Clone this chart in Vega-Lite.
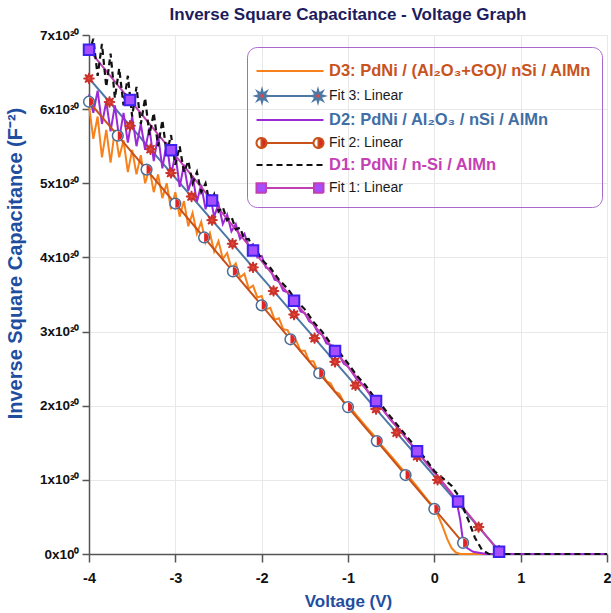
{
"$schema": "https://vega.github.io/schema/vega-lite/v6.json",
"width": 518, "height": 519,
"autosize": {"type": "none"},
"padding": {"left": 89, "top": 35, "right": 4, "bottom": 59},
"background": "white",
"title": {"text": "Inverse Square Capacitance - Voltage Graph", "font": "Liberation Sans", "fontSize": 17, "fontWeight": "bold", "color": "#1c1c5e", "anchor": "middle", "frame": "group", "offset": 4},
"data": {"values": [
{"s":"D3","x":-4,"y":6.05e20},{"s":"D3","x":-3.95,"y":5.60e20},{"s":"D3","x":-3.9,"y":5.90e20},{"s":"D3","x":-3.85,"y":5.35e20},{"s":"D3","x":-3.8,"y":5.72e20},{"s":"D3","x":-3.75,"y":5.28e20},{"s":"D3","x":-3.7,"y":5.72e20},{"s":"D3","x":-3.65,"y":5.35e20},{"s":"D3","x":-3.6,"y":5.58e20},{"s":"D3","x":-3.55,"y":5.15e20},{"s":"D3","x":-3.5,"y":5.45e20},{"s":"D3","x":-3.45,"y":5.12e20},{"s":"D3","x":-3.4,"y":5.38e20},{"s":"D3","x":-3.35,"y":5.00e20},{"s":"D3","x":-3.3,"y":5.20e20},{"s":"D3","x":-3.25,"y":4.88e20},{"s":"D3","x":-3.2,"y":5.12e20},{"s":"D3","x":-3.15,"y":4.80e20},{"s":"D3","x":-3.1,"y":5.00e20},{"s":"D3","x":-3.05,"y":4.65e20},{"s":"D3","x":-3,"y":4.88e20},{"s":"D3","x":-2.95,"y":4.55e20},{"s":"D3","x":-2.9,"y":4.76e20},{"s":"D3","x":-2.85,"y":4.42e20},{"s":"D3","x":-2.8,"y":4.60e20},{"s":"D3","x":-2.75,"y":4.32e20},{"s":"D3","x":-2.7,"y":4.48e20},{"s":"D3","x":-2.65,"y":4.20e20},{"s":"D3","x":-2.6,"y":4.33e20},{"s":"D3","x":-2.55,"y":4.08e20},{"s":"D3","x":-2.5,"y":4.22e20},{"s":"D3","x":-2.45,"y":3.98e20},{"s":"D3","x":-2.4,"y":4.06e20},{"s":"D3","x":-2.35,"y":3.85e20},{"s":"D3","x":-2.3,"y":3.92e20},{"s":"D3","x":-2.25,"y":3.73e20},{"s":"D3","x":-2.2,"y":3.78e20},{"s":"D3","x":-2.15,"y":3.58e20},{"s":"D3","x":-2.1,"y":3.62e20},{"s":"D3","x":-2.05,"y":3.46e20},{"s":"D3","x":-2,"y":3.48e20},{"s":"D3","x":-1.95,"y":3.30e20},{"s":"D3","x":-1.9,"y":3.32e20},{"s":"D3","x":-1.85,"y":3.16e20},{"s":"D3","x":-1.8,"y":3.18e20},{"s":"D3","x":-1.75,"y":3.03e20},{"s":"D3","x":-1.7,"y":3.02e20},{"s":"D3","x":-1.65,"y":2.90e20},{"s":"D3","x":-1.6,"y":2.88e20},{"s":"D3","x":-1.55,"y":2.74e20},{"s":"D3","x":-1.5,"y":2.74e20},{"s":"D3","x":-1.45,"y":2.60e20},{"s":"D3","x":-1.4,"y":2.60e20},{"s":"D3","x":-1.35,"y":2.47e20},{"s":"D3","x":-1.3,"y":2.44e20},{"s":"D3","x":-1.25,"y":2.33e20},{"s":"D3","x":-1.2,"y":2.30e20},{"s":"D3","x":-1.15,"y":2.19e20},{"s":"D3","x":-1.1,"y":2.16e20},{"s":"D3","x":-1.05,"y":2.05e20},{"s":"D3","x":-1,"y":2.02e20},{"s":"D3","x":-0.9,"y":1.87e20},{"s":"D3","x":-0.8,"y":1.73e20},{"s":"D3","x":-0.7,"y":1.60e20},{"s":"D3","x":-0.6,"y":1.45e20},{"s":"D3","x":-0.5,"y":1.32e20},{"s":"D3","x":-0.4,"y":1.18e20},{"s":"D3","x":-0.3,"y":1.05e20},{"s":"D3","x":-0.2,"y":0.91e20},{"s":"D3","x":-0.1,"y":0.76e20},{"s":"D3","x":0,"y":0.62e20},{"s":"D3","x":0.05,"y":0.50e20},{"s":"D3","x":0.1,"y":0.36e20},{"s":"D3","x":0.15,"y":0.20e20},{"s":"D3","x":0.2,"y":0.08e20},{"s":"D3","x":0.25,"y":0.02e20},{"s":"D3","x":0.3,"y":0},{"s":"D3","x":2,"y":0},
{"s":"Fit 3","x":-4,"y":6.414e20},{"s":"Fit 3","x":-3.7625,"y":6.096e20},{"s":"Fit 3","x":-3.525,"y":5.777e20},{"s":"Fit 3","x":-3.2875,"y":5.459e20},{"s":"Fit 3","x":-3.05,"y":5.140e20},{"s":"Fit 3","x":-2.8125,"y":4.822e20},{"s":"Fit 3","x":-2.575,"y":4.503e20},{"s":"Fit 3","x":-2.3375,"y":4.185e20},{"s":"Fit 3","x":-2.1,"y":3.866e20},{"s":"Fit 3","x":-1.8625,"y":3.548e20},{"s":"Fit 3","x":-1.625,"y":3.229e20},{"s":"Fit 3","x":-1.3875,"y":2.911e20},{"s":"Fit 3","x":-1.15,"y":2.592e20},{"s":"Fit 3","x":-0.9125,"y":2.274e20},{"s":"Fit 3","x":-0.675,"y":1.955e20},{"s":"Fit 3","x":-0.4375,"y":1.637e20},{"s":"Fit 3","x":-0.2,"y":1.318e20},{"s":"Fit 3","x":0.0375,"y":1.000e20},{"s":"Fit 3","x":0.275,"y":0.681e20},{"s":"Fit 3","x":0.5125,"y":0.363e20},{"s":"Fit 3","x":0.75,"y":0.044e20},
{"s":"D2","x":-4,"y":6.20e20},{"s":"D2","x":-3.95,"y":5.95e20},{"s":"D2","x":-3.9,"y":6.25e20},{"s":"D2","x":-3.85,"y":5.80e20},{"s":"D2","x":-3.8,"y":6.10e20},{"s":"D2","x":-3.75,"y":5.70e20},{"s":"D2","x":-3.7,"y":6.05e20},{"s":"D2","x":-3.65,"y":5.60e20},{"s":"D2","x":-3.6,"y":5.95e20},{"s":"D2","x":-3.55,"y":5.55e20},{"s":"D2","x":-3.5,"y":5.90e20},{"s":"D2","x":-3.45,"y":5.50e20},{"s":"D2","x":-3.4,"y":5.80e20},{"s":"D2","x":-3.35,"y":5.45e20},{"s":"D2","x":-3.3,"y":5.75e20},{"s":"D2","x":-3.25,"y":5.30e20},{"s":"D2","x":-3.2,"y":5.65e20},{"s":"D2","x":-3.15,"y":5.20e20},{"s":"D2","x":-3.1,"y":5.55e20},{"s":"D2","x":-3.05,"y":5.10e20},{"s":"D2","x":-3,"y":5.40e20},{"s":"D2","x":-2.95,"y":4.95e20},{"s":"D2","x":-2.9,"y":5.25e20},{"s":"D2","x":-2.85,"y":4.90e20},{"s":"D2","x":-2.8,"y":5.10e20},{"s":"D2","x":-2.75,"y":4.75e20},{"s":"D2","x":-2.7,"y":4.98e20},{"s":"D2","x":-2.65,"y":4.65e20},{"s":"D2","x":-2.6,"y":4.85e20},{"s":"D2","x":-2.55,"y":4.55e20},{"s":"D2","x":-2.5,"y":4.72e20},{"s":"D2","x":-2.45,"y":4.45e20},{"s":"D2","x":-2.4,"y":4.58e20},{"s":"D2","x":-2.35,"y":4.35e20},{"s":"D2","x":-2.3,"y":4.45e20},{"s":"D2","x":-2.25,"y":4.25e20},{"s":"D2","x":-2.2,"y":4.32e20},{"s":"D2","x":-2.15,"y":4.15e20},{"s":"D2","x":-2.1,"y":4.18e20},{"s":"D2","x":-2.05,"y":4.00e20},{"s":"D2","x":-2,"y":4.02e20},{"s":"D2","x":-1.95,"y":3.86e20},{"s":"D2","x":-1.9,"y":3.84e20},{"s":"D2","x":-1.85,"y":3.70e20},{"s":"D2","x":-1.8,"y":3.68e20},{"s":"D2","x":-1.75,"y":3.55e20},{"s":"D2","x":-1.7,"y":3.53e20},{"s":"D2","x":-1.65,"y":3.42e20},{"s":"D2","x":-1.6,"y":3.40e20},{"s":"D2","x":-1.55,"y":3.27e20},{"s":"D2","x":-1.5,"y":3.25e20},{"s":"D2","x":-1.45,"y":3.14e20},{"s":"D2","x":-1.4,"y":3.10e20},{"s":"D2","x":-1.35,"y":2.99e20},{"s":"D2","x":-1.3,"y":2.96e20},{"s":"D2","x":-1.25,"y":2.84e20},{"s":"D2","x":-1.2,"y":2.82e20},{"s":"D2","x":-1.15,"y":2.70e20},{"s":"D2","x":-1.1,"y":2.68e20},{"s":"D2","x":-1.05,"y":2.57e20},{"s":"D2","x":-1,"y":2.53e20},{"s":"D2","x":-0.9,"y":2.36e20},{"s":"D2","x":-0.8,"y":2.24e20},{"s":"D2","x":-0.7,"y":2.07e20},{"s":"D2","x":-0.6,"y":1.95e20},{"s":"D2","x":-0.5,"y":1.80e20},{"s":"D2","x":-0.4,"y":1.67e20},{"s":"D2","x":-0.3,"y":1.52e20},{"s":"D2","x":-0.2,"y":1.39e20},{"s":"D2","x":-0.1,"y":1.24e20},{"s":"D2","x":0,"y":1.10e20},{"s":"D2","x":0.1,"y":0.96e20},{"s":"D2","x":0.2,"y":0.82e20},{"s":"D2","x":0.26,"y":0.70e20},{"s":"D2","x":0.3,"y":0.46e20},{"s":"D2","x":0.33,"y":0.19e20},{"s":"D2","x":0.38,"y":0.08e20},{"s":"D2","x":0.45,"y":0.03e20},{"s":"D2","x":0.6,"y":0},{"s":"D2","x":2,"y":0},
{"s":"Fit 2","x":-4,"y":6.100e20},{"s":"Fit 2","x":-3.6667,"y":5.642e20},{"s":"Fit 2","x":-3.3333,"y":5.185e20},{"s":"Fit 2","x":-3,"y":4.727e20},{"s":"Fit 2","x":-2.6667,"y":4.269e20},{"s":"Fit 2","x":-2.3333,"y":3.812e20},{"s":"Fit 2","x":-2,"y":3.354e20},{"s":"Fit 2","x":-1.6667,"y":2.896e20},{"s":"Fit 2","x":-1.3333,"y":2.438e20},{"s":"Fit 2","x":-1,"y":1.981e20},{"s":"Fit 2","x":-0.6667,"y":1.523e20},{"s":"Fit 2","x":-0.3333,"y":1.065e20},{"s":"Fit 2","x":0,"y":0.608e20},{"s":"Fit 2","x":0.3333,"y":0.150e20},
{"s":"D1","x":-4,"y":6.75e20},{"s":"D1","x":-3.95,"y":6.95e20},{"s":"D1","x":-3.9,"y":6.45e20},{"s":"D1","x":-3.85,"y":6.88e20},{"s":"D1","x":-3.8,"y":6.30e20},{"s":"D1","x":-3.75,"y":6.75e20},{"s":"D1","x":-3.7,"y":6.15e20},{"s":"D1","x":-3.65,"y":6.55e20},{"s":"D1","x":-3.6,"y":6.05e20},{"s":"D1","x":-3.55,"y":6.45e20},{"s":"D1","x":-3.5,"y":5.90e20},{"s":"D1","x":-3.45,"y":6.30e20},{"s":"D1","x":-3.4,"y":5.80e20},{"s":"D1","x":-3.35,"y":6.15e20},{"s":"D1","x":-3.3,"y":5.65e20},{"s":"D1","x":-3.25,"y":5.95e20},{"s":"D1","x":-3.2,"y":5.50e20},{"s":"D1","x":-3.15,"y":5.85e20},{"s":"D1","x":-3.1,"y":5.40e20},{"s":"D1","x":-3.05,"y":5.65e20},{"s":"D1","x":-3,"y":5.25e20},{"s":"D1","x":-2.95,"y":5.50e20},{"s":"D1","x":-2.9,"y":5.15e20},{"s":"D1","x":-2.85,"y":5.30e20},{"s":"D1","x":-2.8,"y":5.00e20},{"s":"D1","x":-2.75,"y":5.15e20},{"s":"D1","x":-2.7,"y":4.88e20},{"s":"D1","x":-2.65,"y":5.00e20},{"s":"D1","x":-2.6,"y":4.72e20},{"s":"D1","x":-2.55,"y":4.85e20},{"s":"D1","x":-2.5,"y":4.62e20},{"s":"D1","x":-2.45,"y":4.68e20},{"s":"D1","x":-2.4,"y":4.50e20},{"s":"D1","x":-2.35,"y":4.55e20},{"s":"D1","x":-2.3,"y":4.38e20},{"s":"D1","x":-2.25,"y":4.40e20},{"s":"D1","x":-2.2,"y":4.24e20},{"s":"D1","x":-2.15,"y":4.25e20},{"s":"D1","x":-2.1,"y":4.10e20},{"s":"D1","x":-2.05,"y":4.08e20},{"s":"D1","x":-2,"y":3.97e20},{"s":"D1","x":-1.9,"y":3.86e20},{"s":"D1","x":-1.8,"y":3.70e20},{"s":"D1","x":-1.7,"y":3.58e20},{"s":"D1","x":-1.6,"y":3.42e20},{"s":"D1","x":-1.5,"y":3.30e20},{"s":"D1","x":-1.4,"y":3.13e20},{"s":"D1","x":-1.3,"y":3.00e20},{"s":"D1","x":-1.2,"y":2.84e20},{"s":"D1","x":-1.1,"y":2.72e20},{"s":"D1","x":-1,"y":2.57e20},{"s":"D1","x":-0.9,"y":2.41e20},{"s":"D1","x":-0.8,"y":2.28e20},{"s":"D1","x":-0.7,"y":2.12e20},{"s":"D1","x":-0.6,"y":1.99e20},{"s":"D1","x":-0.5,"y":1.84e20},{"s":"D1","x":-0.4,"y":1.70e20},{"s":"D1","x":-0.3,"y":1.56e20},{"s":"D1","x":-0.2,"y":1.42e20},{"s":"D1","x":-0.1,"y":1.28e20},{"s":"D1","x":0,"y":1.12e20},{"s":"D1","x":0.1,"y":1.02e20},{"s":"D1","x":0.2,"y":0.92e20},{"s":"D1","x":0.3,"y":0.75e20},{"s":"D1","x":0.35,"y":0.58e20},{"s":"D1","x":0.4,"y":0.44e20},{"s":"D1","x":0.47,"y":0.22e20},{"s":"D1","x":0.55,"y":0.06e20},{"s":"D1","x":0.63,"y":0},{"s":"D1","x":2,"y":0},
{"s":"Fit 1","x":-4,"y":6.800e20},{"s":"Fit 1","x":-3.525,"y":6.123e20},{"s":"Fit 1","x":-3.05,"y":5.446e20},{"s":"Fit 1","x":-2.575,"y":4.769e20},{"s":"Fit 1","x":-2.1,"y":4.093e20},{"s":"Fit 1","x":-1.625,"y":3.416e20},{"s":"Fit 1","x":-1.15,"y":2.739e20},{"s":"Fit 1","x":-0.675,"y":2.062e20},{"s":"Fit 1","x":-0.2,"y":1.385e20},{"s":"Fit 1","x":0.275,"y":0.708e20},{"s":"Fit 1","x":0.75,"y":0.031e20}
]},
"encoding": {
  "x": {"field": "x", "type": "quantitative", "scale": {"domain": [-4, 2], "nice": false, "zero": false},
    "axis": {"title": "Voltage (V)", "values": [-4,-3,-2,-1,0,1,2], "labelExpr": "'' + datum.value", "grid": true, "gridColor": "#e8e8e8", "domainColor": "#555555", "domainWidth": 1.5, "tickColor": "#555555", "tickSize": 8, "tickWidth": 1.5, "labelFont": "Liberation Sans", "labelFontSize": 14.5, "labelFontWeight": "bold", "labelColor": "#111111", "labelPadding": 9, "labelFlush": false, "labelOverlap": false, "titleFont": "Liberation Sans", "titleFontSize": 17, "titleFontWeight": "bold", "titleColor": "#1f4e9f", "titleY": 47, "titleBaseline": "middle"}},
  "y": {"field": "y", "type": "quantitative", "scale": {"domain": [0, 7e20], "nice": false},
    "axis": {"title": "Inverse Square Capacitance (F\u207b\u00b2)", "values": [0,1e20,2e20,3e20,4e20,5e20,6e20,7e20], "labelExpr": "datum.value === 0 ? '0x10\u2070' : format(datum.value / 1e20, 'd') + 'x10\u00b2\u2070'", "grid": true, "gridColor": "#e8e8e8", "domainColor": "#555555", "domainWidth": 1.5, "tickColor": "#555555", "tickSize": 7, "tickWidth": 1.5, "labelFont": "Liberation Sans", "labelFontSize": 13.5, "labelFontWeight": "bold", "labelColor": "#111111", "labelPadding": 3, "labelOverlap": false, "titleFont": "Liberation Sans", "titleFontSize": 20, "titleFontWeight": "bold", "titleColor": "#1f4e9f", "titleX": -74, "titleY": 228, "titleBaseline": "middle", "titleAlign": "center"}}
},
"layer": [
  {
    "transform": [{"filter": "datum.s !== 'D1'"}],
    "mark": {"type": "line", "strokeWidth": 2},
    "encoding": {
      "color": {"field": "s", "type": "nominal",
        "scale": {"domain": ["D3","Fit 3","D2","Fit 2","D1","Fit 1"], "range": ["#f7821b","#4d78a6","#9b2ad6","#c85219","#111111","#c23fb3"]},
        "legend": {
          "title": " ", "titleFontSize": 1, "titlePadding": 7,
          "orient": "none", "legendX": 158, "legendY": 12,
          "padding": 10, "rowPadding": 5,
          "strokeColor": "#a868cc", "cornerRadius": 10,
          "symbolType": "M-6.7,0H6.7", "symbolSize": 100, "symbolStrokeWidth": 2,
          "symbolOffset": 27, "labelOffset": 33, "labelLimit": 400,
          "labelFont": "Liberation Sans", "labelFontSize": 15,
          "labelExpr": "datum.value === 'D3' ? 'D3: PdNi / (Al\u2082O\u2083+GO)/ nSi / AlMn' : datum.value === 'D2' ? 'D2: PdNi / Al\u2082O\u2083 / nSi / AlMn' : datum.value === 'D1' ? 'D1: PdNi / n-Si / AlMn' : datum.value + ': Linear'",
          "encode": {
            "symbols": {"update": {
              "shape": [
                {"test": "datum.value === 'Fit 3'", "value": "M-4.35,0H4.35M-4.35,0L-5.092,0.21L-4.716,0.884L-5.39,0.508L-5.6,1.25L-5.81,0.508L-6.484,0.884L-6.108,0.21L-6.85,0L-6.108,-0.21L-6.484,-0.884L-5.81,-0.508L-5.6,-1.25L-5.39,-0.508L-4.716,-0.884L-5.092,-0.21ZM6.85,0L6.108,0.21L6.484,0.884L5.81,0.508L5.6,1.25L5.39,0.508L4.716,0.884L5.092,0.21L4.35,0L5.092,-0.21L4.716,-0.884L5.39,-0.508L5.6,-1.25L5.81,-0.508L6.484,-0.884L6.108,-0.21Z"},
                {"test": "datum.value === 'Fit 2'", "value": "M-4.7,0H4.7M-5.7,-1A1,1,0,1,1,-5.7,1A1,1,0,1,1,-5.7,-1ZM-5.7,-1A1,1,0,0,0,-5.7,1ZM5.7,-1A1,1,0,1,1,5.7,1A1,1,0,1,1,5.7,-1ZM5.7,-1A1,1,0,0,0,5.7,1Z"},
                {"test": "datum.value === 'Fit 1'", "value": "M-4.8,0H4.8M-6.7,-0.95H-4.8V0.95H-6.7ZM4.8,-0.95H6.7V0.95H4.8Z"},
                {"value": "M-6.7,0H6.7"}],
              "fill": [{"test": "datum.value === 'Fit 3'", "value": "#e8453a"}, {"test": "datum.value === 'Fit 2'", "value": "#e02525"}, {"test": "datum.value === 'Fit 1'", "value": "#a64dff"}, {"value": "transparent"}],
              "strokeDash": [{"test": "datum.value === 'D1'", "value": [6,4]}, {"value": [1,0]}]
            }},
            "labels": {"update": {
              "fill": [{"test": "datum.value === 'D3'", "value": "#c8531d"}, {"test": "datum.value === 'D2'", "value": "#3f6fa6"}, {"test": "datum.value === 'D1'", "value": "#c53fb5"}, {"value": "#1a1a1a"}],
              "fontWeight": [{"test": "datum.value === 'D3' || datum.value === 'D2' || datum.value === 'D1'", "value": "bold"}, {"value": "normal"}],
              "fontSize": [{"test": "datum.value === 'D3' || datum.value === 'D2' || datum.value === 'D1'", "value": 16.5}, {"value": 14}]
            }}
          }
        }
      }
    }
  },
  {
    "transform": [{"filter": "datum.s === 'D1'"}],
    "mark": {"type": "line", "strokeWidth": 2.2, "color": "#111111", "strokeDash": [6, 4]}
  },
  {
    "transform": [{"filter": "datum.s === 'Fit 3'"}],
    "mark": {"type": "point", "shape": "M1,0L0.38,0.16L0.71,0.71L0.16,0.38L0,1L-0.16,0.38L-0.71,0.71L-0.38,0.16L-1,0L-0.38,-0.16L-0.71,-0.71L-0.16,-0.38L0,-1L0.16,-0.38L0.71,-0.71L0.38,-0.16Z", "size": 120, "strokeWidth": 1.5, "opacity": 1, "filled": true, "fill": "#e8453a", "stroke": "#c8322a"}
  },
  {
    "transform": [{"filter": "datum.s === 'Fit 2'"}],
    "mark": {"type": "point", "shape": "circle", "size": 115, "strokeWidth": 1.5, "opacity": 1, "filled": true, "fill": "#ffffff", "stroke": "#4a6d96"}
  },
  {
    "transform": [{"filter": "datum.s === 'Fit 2'"}],
    "mark": {"type": "point", "shape": "M0,-1A1,1,0,0,1,0,1Z", "filled": true, "fill": "#e02525", "size": 80, "opacity": 1, "strokeWidth": 0}
  },
  {
    "transform": [{"filter": "datum.s === 'Fit 1'"}],
    "mark": {"type": "point", "shape": "square", "size": 110, "strokeWidth": 2, "opacity": 1, "filled": true, "fill": "#a64dff", "stroke": "#3b22ee"}
  }
],
"config": {"view": {"stroke": null}, "font": "Liberation Sans"}
}
